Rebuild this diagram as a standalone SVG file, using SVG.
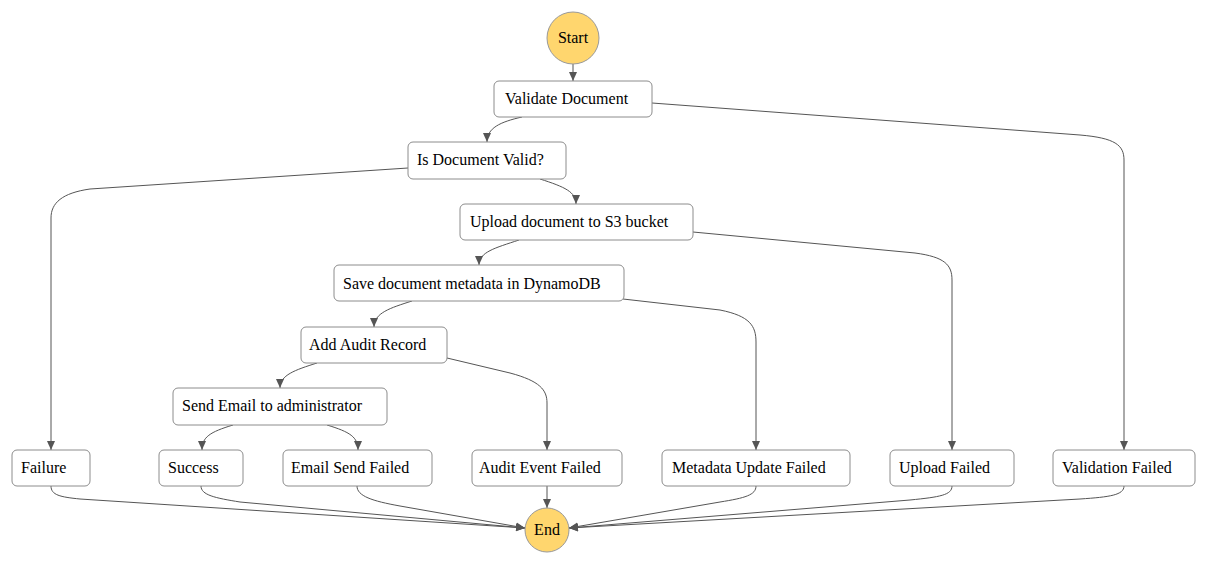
<svg xmlns="http://www.w3.org/2000/svg" width="1208" height="565" viewBox="0 0 1208 565">
<style>
.box{fill:#fff;stroke:#8c8c8c;stroke-width:1}
.circ{fill:#ffd66e;stroke:#999;stroke-width:1}
.lbl{font-family:"Liberation Serif","Times New Roman",serif;font-size:16px;fill:#000}
.clbl{font-family:"Liberation Serif","Times New Roman",serif;font-size:16px;fill:#000;text-anchor:middle}
.edge{fill:none;stroke:#555;stroke-width:1;marker-end:url(#arr)}
</style>
<defs>
<marker id="arr" markerUnits="userSpaceOnUse" markerWidth="10" markerHeight="10" viewBox="0 0 10 10" refX="9" refY="5" orient="auto">
<path d="M0,1 L9,5 L0,9 z" fill="#555"/>
</marker>
</defs>
<rect width="1208" height="565" fill="#fff"/>
<g id="connectors">
<path class="edge" d="M573,64 L573,81"/>
<path class="edge" d="M522,117 C500,122 487,128 487,142"/>
<path class="edge" d="M652,103 L1080,135 C1115,138 1124,145 1124,160 L1124,450"/>
<path class="edge" d="M408,168 L90,189 C62,193 51,203 51,218 L51,450"/>
<path class="edge" d="M540,179 C565,187 576,192 576,204"/>
<path class="edge" d="M519,240 C495,248 479,252 479,265"/>
<path class="edge" d="M693,232 L915,253 C945,257 952,265 952,280 L952,450"/>
<path class="edge" d="M412,301 C390,308 374,313 374,327"/>
<path class="edge" d="M623,299 L720,310 C750,316 756,326 756,342 L756,450"/>
<path class="edge" d="M317,363 C295,370 280,375 280,388"/>
<path class="edge" d="M447,358 L510,373 C540,381 547,390 547,403 L547,450"/>
<path class="edge" d="M233,425 C210,432 202,437 202,450"/>
<path class="edge" d="M327,425 C350,432 358,437 358,450"/>
<path class="edge" d="M51,486 C51,495 60,497 80,499 L525,528"/>
<path class="edge" d="M201,486 C201,495 215,498 240,502 L525,528"/>
<path class="edge" d="M357,486 C357,496 372,501 400,506 L525,528"/>
<path class="edge" d="M547,486 L547,508"/>
<path class="edge" d="M756,486 C756,495 745,498 720,502 L569,528"/>
<path class="edge" d="M952,486 C952,495 940,497 910,500 L569,528"/>
<path class="edge" d="M1124,486 C1124,495 1110,497 1080,499 L569,528"/>
</g>
<g id="start"><circle class="circ" cx="573" cy="38" r="26"/><text class="clbl" x="573" y="43">Start</text></g>
<g id="validate"><rect class="box" x="494" y="81" width="158" height="36" rx="5"/><text class="lbl" x="505" y="104">Validate Document</text></g>
<g id="isvalid"><rect class="box" x="408" y="142" width="158" height="37" rx="5"/><text class="lbl" x="417" y="165">Is Document Valid?</text></g>
<g id="upload"><rect class="box" x="460" y="204" width="233" height="36" rx="5"/><text class="lbl" x="470" y="227">Upload document to S3 bucket</text></g>
<g id="save"><rect class="box" x="334" y="265" width="290" height="36" rx="5"/><text class="lbl" x="343" y="289">Save document metadata in DynamoDB</text></g>
<g id="audit"><rect class="box" x="301" y="327" width="146" height="36" rx="5"/><text class="lbl" x="309" y="350">Add Audit Record</text></g>
<g id="email"><rect class="box" x="173" y="388" width="214" height="37" rx="5"/><text class="lbl" x="182" y="411">Send Email to administrator</text></g>
<g id="failure"><rect class="box" x="12" y="450" width="78" height="36" rx="5"/><text class="lbl" x="21" y="473">Failure</text></g>
<g id="success"><rect class="box" x="159" y="450" width="84" height="36" rx="5"/><text class="lbl" x="168" y="473">Success</text></g>
<g id="emailfailed"><rect class="box" x="283" y="450" width="149" height="36" rx="5"/><text class="lbl" x="291" y="473">Email Send Failed</text></g>
<g id="auditfailed"><rect class="box" x="472" y="450" width="150" height="36" rx="5"/><text class="lbl" x="479" y="473">Audit Event Failed</text></g>
<g id="metafailed"><rect class="box" x="662" y="450" width="188" height="36" rx="5"/><text class="lbl" x="672" y="473">Metadata Update Failed</text></g>
<g id="uploadfailed"><rect class="box" x="890" y="450" width="124" height="36" rx="5"/><text class="lbl" x="899" y="473">Upload Failed</text></g>
<g id="validationfailed"><rect class="box" x="1053" y="450" width="142" height="36" rx="5"/><text class="lbl" x="1062" y="473">Validation Failed</text></g>
<g id="end"><circle class="circ" cx="547" cy="530" r="22"/><text class="clbl" x="547" y="535">End</text></g>
</svg>
